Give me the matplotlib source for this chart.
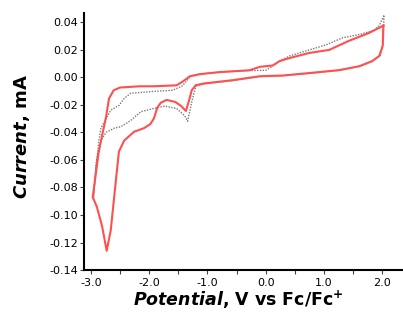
import matplotlib
matplotlib.use("Agg")
import matplotlib.pyplot as plt
from matplotlib.ticker import MultipleLocator, FormatStrFormatter

# Cyclic voltammograms (V vs Fc/Fc+, mA)
red_v = [2.02, 1.78, 1.43, 1.09, 0.75, 0.41, 0.24, 0.12, -0.10, -0.28, -0.79,
         -1.13, -1.30, -1.42, -1.53, -1.92, -2.16, -2.50, -2.61, -2.69, -2.74,
         -2.81, -2.87, -2.91, -2.97,
         -2.90, -2.81, -2.73, -2.66, -2.57, -2.52, -2.43, -2.26, -2.09, -1.98,
         -1.92, -1.86, -1.80, -1.70, -1.55, -1.45, -1.37, -1.31, -1.27, -1.20,
         -1.05, -0.57, -0.10, 0.29, 0.75, 1.26, 1.61, 1.83, 1.95, 2.01, 2.02]
red_i = [0.0374, 0.0322, 0.0264, 0.0198, 0.0176, 0.0139, 0.0117, 0.0085,
         0.0075, 0.0050, 0.0037, 0.0022, 0.0007, -0.0030, -0.0059, -0.0066,
         -0.0066, -0.0075, -0.0095, -0.0154, -0.0286, -0.0425, -0.0550,
         -0.0680, -0.0870,
         -0.0940, -0.1080, -0.1260, -0.1110, -0.0740, -0.0540, -0.0460,
         -0.0396, -0.0370, -0.0340, -0.0300, -0.0220, -0.0185, -0.0165,
         -0.0180, -0.0210, -0.0245, -0.0160, -0.0095, -0.0058, -0.0045,
         -0.0022, 0.0007, 0.0012, 0.0030, 0.0051, 0.0080, 0.0117, 0.0154,
         0.0227, 0.0374]

gray_v = [2.03, 1.95, 1.86, 1.61, 1.32, 1.04, 0.75, 0.41, 0.24, 0.10, 0.00,
          -0.30, -0.79, -1.13, -1.30, -1.36, -1.44, -1.60, -1.92, -2.32, -2.43,
          -2.52, -2.66, -2.74, -2.83, -2.86, -2.91, -2.96,
          -2.91, -2.83, -2.74, -2.60, -2.49, -2.32, -2.14, -1.92, -1.73, -1.53,
          -1.39, -1.34, -1.27, -1.20, -1.05, -0.57, -0.10, 0.29, 0.75, 1.26,
          1.61, 1.83, 1.97, 2.02, 2.03]
gray_i = [0.0447, 0.0374, 0.0340, 0.0310, 0.0286, 0.0235, 0.0198, 0.0154,
          0.0117, 0.0075, 0.0050, 0.0048, 0.0037, 0.0022, 0.0003, -0.0030,
          -0.0066, -0.0095, -0.0103, -0.0117, -0.0154, -0.0205, -0.0240,
          -0.0300, -0.0370, -0.0450, -0.0640, -0.0890,
          -0.0620, -0.0460, -0.0400, -0.0370, -0.0360, -0.0315, -0.0250,
          -0.0227, -0.0210, -0.0227, -0.0280, -0.0320, -0.0180, -0.0065,
          -0.0048, -0.0025, 0.0004, 0.0010, 0.0028, 0.0050, 0.0078, 0.0115,
          0.0160, 0.0250, 0.0447]

plt.rcParams['axes.unicode_minus'] = False
plt.rcParams['mathtext.fontset'] = 'custom'
plt.rcParams['mathtext.it'] = 'DejaVu Sans:italic:bold'
plt.rcParams['mathtext.rm'] = 'DejaVu Sans:bold'
plt.rcParams['mathtext.bf'] = 'DejaVu Sans:bold'

fig = plt.figure(figsize=(4.03, 3.2), dpi=100)
ax = fig.add_axes([0.2084, 0.156, 0.789, 0.803])

ax.plot(gray_v, gray_i, color='#7a7a7a', lw=1.0, linestyle=(0, (1, 1)))
ax.plot(red_v, red_i, color='#ff5050', lw=1.5)

ax.set_xlim(-3.12, 2.34)
ax.set_ylim(-0.14, 0.0465)

ax.spines['top'].set_visible(False)
ax.spines['right'].set_visible(False)
for s in ['left', 'bottom']:
    ax.spines[s].set_linewidth(1.5)

ax.xaxis.set_major_locator(MultipleLocator(1.0))
ax.xaxis.set_minor_locator(MultipleLocator(0.5))
ax.xaxis.set_major_formatter(FormatStrFormatter('%.1f'))
ax.yaxis.set_major_locator(MultipleLocator(0.02))
ax.yaxis.set_major_formatter(FormatStrFormatter('%.2f'))
ax.tick_params(which='both', direction='out', length=3, width=0.8,
               color='#444444', labelsize=8)
ax.tick_params(axis='y', pad=1.5)
ax.tick_params(axis='x', pad=2.5)

ax.set_xlabel(r'$Potential$, V vs Fc/Fc$^{\mathbf{+}}$', fontsize=12.5,
              fontweight='bold')
ax.set_ylabel(r'$Current$, mA', fontsize=13, fontweight='bold')
ax.xaxis.set_label_coords(0.485, -0.072)
ax.yaxis.set_label_coords(-0.164, 0.519)

fig.savefig('out.png', dpi=100)
